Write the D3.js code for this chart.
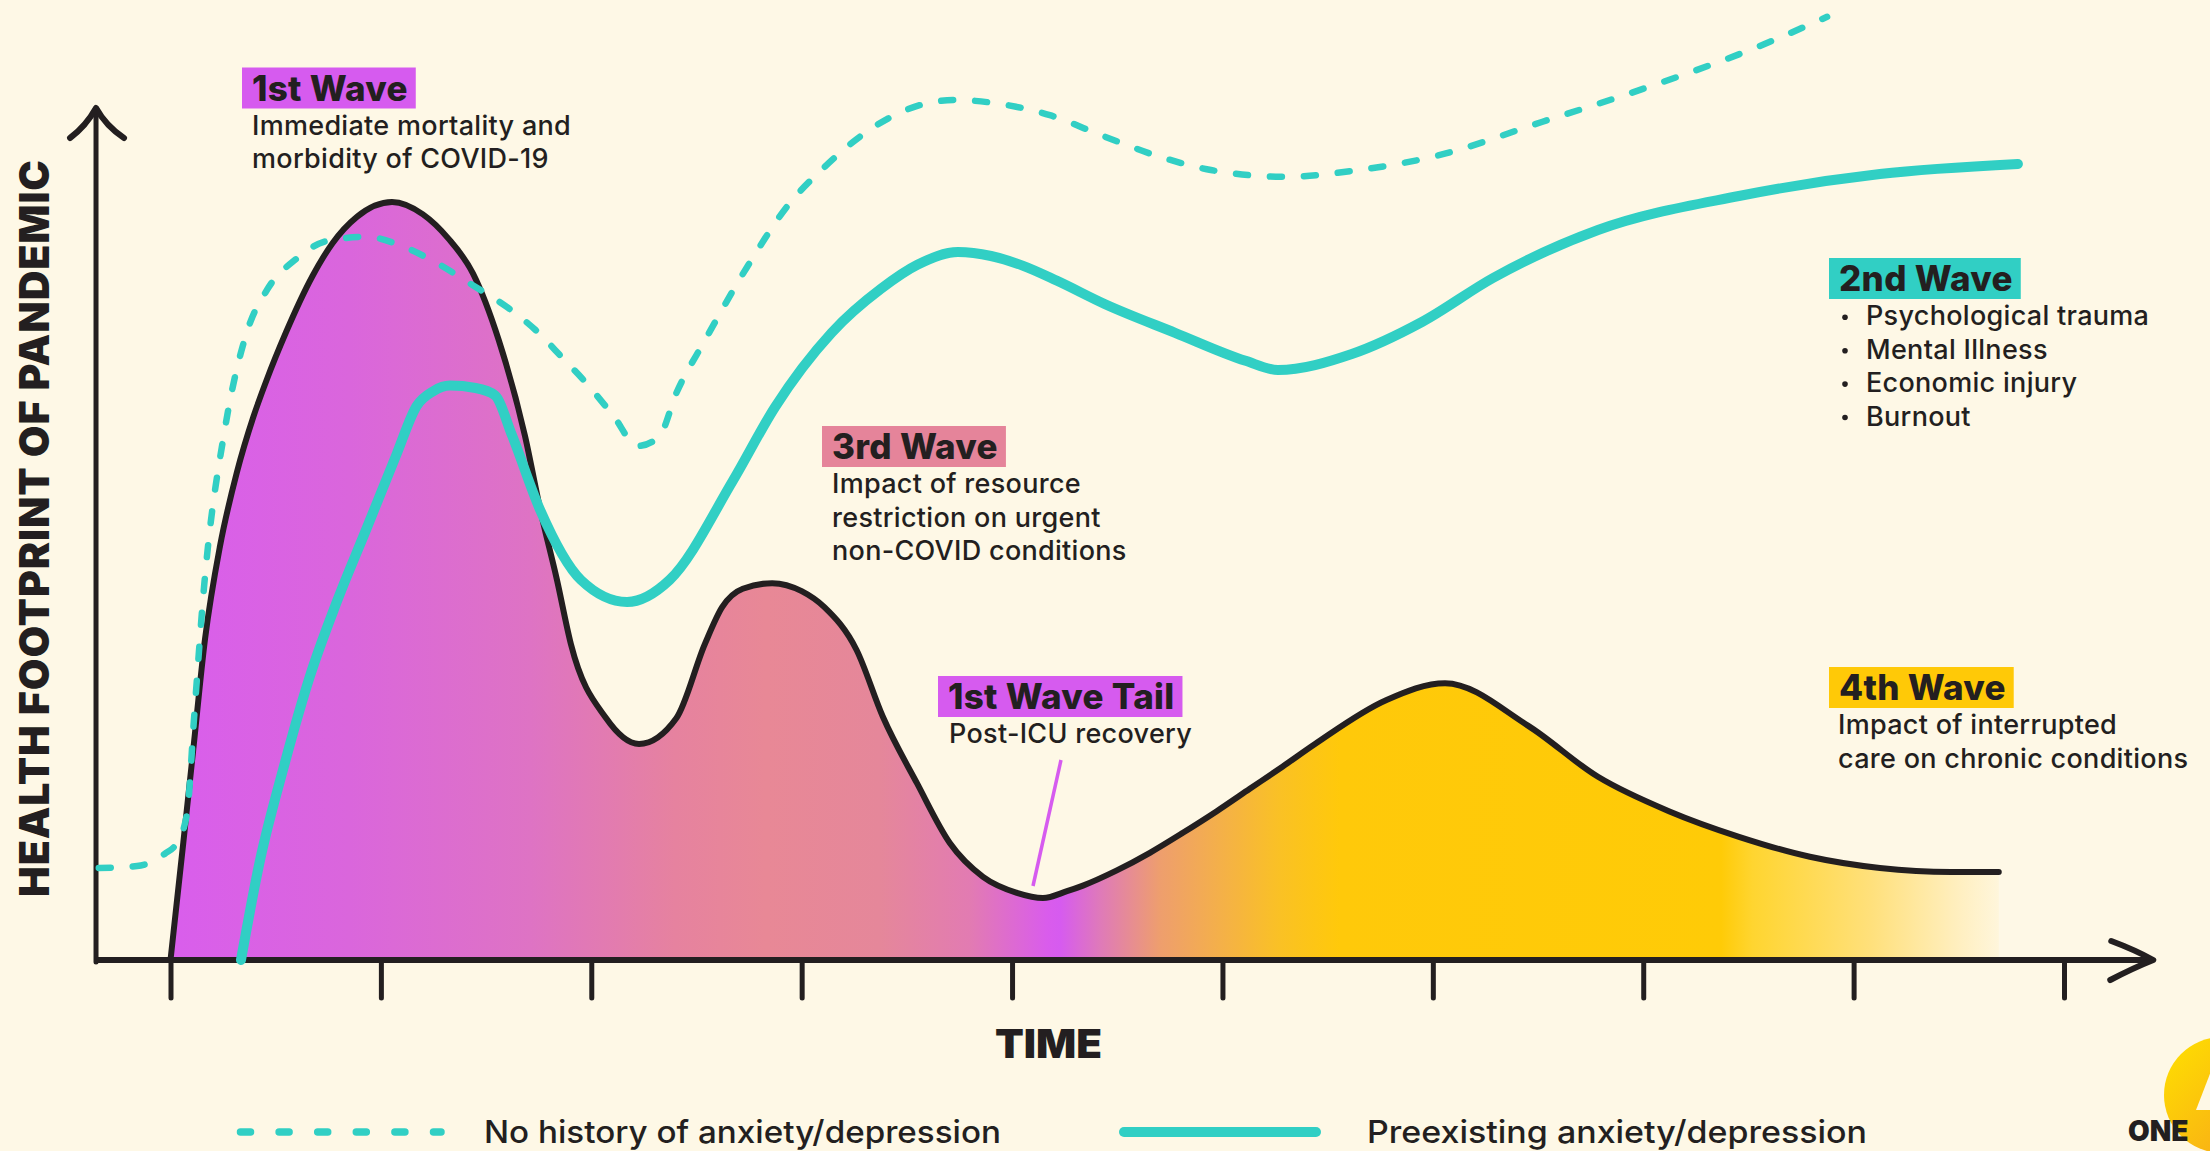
<!DOCTYPE html>
<html><head><meta charset="utf-8">
<script src="https://cdn.jsdelivr.net/npm/d3@7"></script>
<style>
html,body{margin:0;padding:0;background:#FEF8E6;overflow:hidden;}
svg{display:block;}
</style></head>
<body>
<svg id="chart" width="2210" height="1151"></svg>
<script>
// ---------------- DATA ----------------
// Total health footprint (black envelope), time in tick units, value in arbitrary units
const timeTotal = [0,0.061,0.108,0.164,0.235,0.315,0.394,0.457,0.548,0.675,0.77,0.886,1.053,1.2,1.32,1.438,1.56,1.685,1.76,1.837,1.903,2.07,2.227,2.405,2.54,2.622,2.72,2.86,3.0,3.108,3.261,3.386,3.548,3.705,3.862,4.023,4.147,4.261,4.337,4.498,4.655,4.812,4.973,5.13,5.287,5.44,5.78,6.058,6.452,6.785,7.122,7.455,7.792,8.125,8.463,8.69];
const totalFootprint = [0,14.7,26.25,40.1,51.7,60.9,67.9,72.5,78.4,85.5,89.6,92.9,94.75,93.2,90.2,85.8,77.5,65.5,56,47.5,39.5,30.25,27,30.25,39.5,44.1,46.4,47.1,46.1,44.1,38.75,30.4,22.1,14.6,10.4,8.4,7.75,8.6,9.3,11.2,13.4,15.9,18.6,21.4,24.2,27,32.5,34.6,29.3,22.9,18.6,15.4,12.9,11.5,11,11];

// Preexisting anxiety/depression (solid teal)
const timePre = [0.335,0.425,0.536,0.663,0.79,0.933,1.075,1.17,1.249,1.328,1.45,1.542,1.623,1.757,1.951,2.17,2.372,2.673,2.873,3.142,3.377,3.55,3.743,3.9,4.05,4.214,4.44,4.775,5.11,5.264,5.615,5.948,6.286,6.785,7.455,8.125,8.781];
const preexisting = [0,12.4,23.9,35.5,44.75,54,63.25,69.25,71.1,71.8,71.5,70.6,65.6,56.25,47.5,44.75,47.5,59.9,69.1,78.4,83.9,86.9,88.5,88,86.8,84.9,82,78.4,74.9,73.75,75.75,79.75,85.25,91.25,95.5,98.25,99.5];

// No history of anxiety/depression (dashed teal)
const timeNoHist = [-0.341,-0.159,-0.026,0.029,0.078,0.112,0.159,0.261,0.362,0.462,0.596,0.747,0.932,1.099,1.267,1.433,1.6,1.735,1.869,1.97,2.103,2.221,2.322,2.405,2.539,2.74,2.94,3.108,3.276,3.51,3.729,3.946,4.18,4.442,4.74,4.945,5.297,5.649,6.015,6.518,7.022,7.554,7.874];
const noHistory = [11.5,11.75,13.3,14.6,18.2,30.25,46.5,66.75,78.4,83.9,87.6,89.9,90.4,89.25,87.1,84.4,81.6,78.75,75.1,72.3,68.1,64.25,65.4,70.9,77.4,86.6,94.5,99.1,102.9,106.4,107.5,107,105.6,102.9,100.1,98.75,97.9,98.75,100.5,104.75,109.1,114.25,117.9];

const xTicks = [0,1,2,3,4,5,6,7,8,9];
const xTitle = "TIME";
const yTitle = "HEALTH FOOTPRINT OF PANDEMIC";
const seriesNames = ["No history of anxiety/depression","Preexisting anxiety/depression"];

const waveTitles = ["1st Wave","3rd Wave","1st Wave Tail","2nd Wave","4th Wave"];
const waveTexts = [
  ["Immediate mortality and","morbidity of COVID-19"],
  ["Impact of resource","restriction on urgent","non-COVID conditions"],
  ["Post-ICU recovery"],
  ["Psychological trauma","Mental Illness","Economic injury","Burnout"],
  ["Impact of interrupted","care on chronic conditions"]
];

// ---------------- STYLE ----------------
const BG = "#FEF8E6", INK = "#231F20", TEAL = "#31CFC4";
const MAGENTA = "#D65BEF", PINK = "#E5849A", YELLOW = "#FFC907";
const FONT = "Inter, 'Noto Sans', sans-serif";

const W = 2210, H = 1151;
const svg = d3.select("#chart");
svg.append("rect").attr("width", W).attr("height", H).attr("fill", BG);

const x = d3.scaleLinear().domain([0, 9]).range([170.5, 2064]);
const y = d3.scaleLinear().domain([0, 100]).range([960, 160]);
const axisT0 = -0.354, axisT1 = 9.41, axisVTop = 106.5;

// gradient (position in time units, colour)
const gradStops = [
  [0,"#D95EEC"],[0.85,"#DA66DC"],[1.71,"#DE73C4"],[2.4,"#E6829F"],[2.83,"#E88896"],
  [3.37,"#E5879A"],[3.8,"#E27BB2"],[4.17,"#D95CEC"],[4.23,"#D65BEF"],[4.42,"#DF7AB9"],
  [4.7,"#EE9E6E"],[4.99,"#F4B049"],[5.27,"#FAC125"],[5.56,"#FFC90A"],[7.37,"#FFCB07"],
  [7.52,"#FFD530"],[8.08,"#FFE07B"],[8.5,"#FFEFC0"],[8.76,"#FEF8E5"]
];
const defs = svg.append("defs");
const gx0 = x(gradStops[0][0]), gx1 = x(gradStops[gradStops.length-1][0]);
const grad = defs.append("linearGradient").attr("id","waveGrad")
  .attr("gradientUnits","userSpaceOnUse").attr("x1",gx0).attr("x2",gx1).attr("y1",0).attr("y2",0);
gradStops.forEach(s => grad.append("stop").attr("offset", (x(s[0])-gx0)/(gx1-gx0)).attr("stop-color", s[1]));

const totalData = timeTotal.map((t,i)=>({t, v: totalFootprint[i]}));
const preData = timePre.map((t,i)=>({t, v: preexisting[i]}));
const noHistData = timeNoHist.map((t,i)=>({t, v: noHistory[i]}));

const curve = d3.curveMonotoneX;

// area fill
svg.append("path").datum(totalData)
  .attr("d", d3.area().x(d=>x(d.t)).y0(y(0)).y1(d=>y(d.v)).curve(curve))
  .attr("fill","url(#waveGrad)");

// black envelope
svg.append("path").datum(totalData)
  .attr("d", d3.line().x(d=>x(d.t)).y(d=>y(d.v)).curve(curve))
  .attr("fill","none").attr("stroke",INK).attr("stroke-width",6).attr("stroke-linecap","round").attr("stroke-linejoin","round");

// axes
const gAxis = svg.append("g").attr("transform",`translate(0,${y(0)})`)
  .call(d3.axisBottom(x).tickValues(xTicks).tickSize(38).tickSizeOuter(0).tickFormat(""));
gAxis.select(".domain").remove();
gAxis.selectAll(".tick line").attr("stroke",INK).attr("stroke-width",5).attr("stroke-linecap","round");

const ax0 = x(axisT0), ax1 = x(axisT1), ay0 = y(0), ayTop = y(axisVTop);
svg.append("line").attr("x1",ax0-2).attr("x2",ax1).attr("y1",ay0).attr("y2",ay0)
  .attr("stroke",INK).attr("stroke-width",6);
svg.append("line").attr("x1",ax0).attr("x2",ax0).attr("y1",ay0+2).attr("y2",ayTop)
  .attr("stroke",INK).attr("stroke-width",5).attr("stroke-linecap","round");
// arrow heads
const tipX = ax1 + 3;
svg.append("path").attr("d",`M${tipX-42},${ay0-19} Q${tipX-18},${ay0-10} ${tipX},${ay0} Q${tipX-20},${ay0+8} ${tipX-43},${ay0+20}`)
  .attr("fill","none").attr("stroke",INK).attr("stroke-width",6).attr("stroke-linecap","round").attr("stroke-linejoin","round");
svg.append("path").attr("d",`M${ax0-26},${ayTop+30} Q${ax0-10},${ayTop+18} ${ax0},${ayTop} Q${ax0+10},${ayTop+18} ${ax0+28},${ayTop+30}`)
  .attr("fill","none").attr("stroke",INK).attr("stroke-width",6).attr("stroke-linecap","round").attr("stroke-linejoin","round");

// teal lines
svg.append("path").datum(noHistData)
  .attr("d", d3.line().x(d=>x(d.t)).y(d=>y(d.v)).curve(curve))
  .attr("fill","none").attr("stroke",TEAL).attr("stroke-width",6.5)
  .attr("stroke-dasharray","12,22").attr("stroke-linecap","round");
svg.append("path").datum(preData)
  .attr("d", d3.line().x(d=>x(d.t)).y(d=>y(d.v)).curve(curve))
  .attr("fill","none").attr("stroke",TEAL).attr("stroke-width",10).attr("stroke-linecap","round").attr("stroke-linejoin","round");

// axis titles
svg.append("text").attr("transform",`translate(49,528.5) rotate(-90)`)
  .attr("text-anchor","middle").attr("font-family",FONT).attr("font-weight",900)
  .attr("font-size",41).attr("fill",INK).attr("textLength",737).attr("lengthAdjust","spacing")
  .text(yTitle);
svg.append("text").attr("x",1048.5).attr("y",1058).attr("text-anchor","middle")
  .attr("font-family",FONT).attr("font-weight",900).attr("font-size",40).attr("fill",INK)
  .attr("textLength",107).attr("lengthAdjust","spacingAndGlyphs").text(xTitle);

// annotations
function waveLabel(i, tx, baseline, fill, bodyX, bullet) {
  const g = svg.append("g");
  const rect = g.append("rect").attr("fill", fill);
  const t = g.append("text").attr("x",tx).attr("y",baseline)
    .attr("font-family",FONT).attr("font-weight",800).attr("font-size",35).attr("letter-spacing",0.3).attr("fill",INK)
    .text(waveTitles[i]);
  const w = t.node().getComputedTextLength();
  rect.attr("x",tx-10).attr("y",baseline-33).attr("width",w+18).attr("height",41);
  waveTexts[i].forEach((ln,k)=>{
    const yy = baseline + 34.3 + k*33.4;
    if (bullet) {
      g.append("circle").attr("cx",tx+6).attr("cy",yy-8).attr("r",2.8).attr("fill",INK);
    }
    g.append("text").attr("x",bodyX).attr("y",yy)
      .attr("font-family",FONT).attr("font-weight",500).attr("font-size",27).attr("letter-spacing",0.3).attr("fill",INK)
      .text(ln);
  });
}
waveLabel(0, 252, 100.5, MAGENTA, 252, false);
waveLabel(1, 832, 459, PINK, 832, false);
waveLabel(2, 948, 709, MAGENTA, 949, false);
waveLabel(3, 1839, 291, TEAL, 1866, true);
waveLabel(4, 1839, 700, YELLOW, 1838, false);

// leader line for tail
svg.append("line").attr("x1",1061).attr("y1",760).attr("x2",1033).attr("y2",886)
  .attr("stroke",MAGENTA).attr("stroke-width",3.5);

// legend
const legY = 1132;
svg.append("line").attr("x1",240.5).attr("x2",441).attr("y1",legY).attr("y2",legY)
  .attr("stroke",TEAL).attr("stroke-width",7.5).attr("stroke-dasharray","10,28.6").attr("stroke-linecap","round");
svg.append("text").attr("x",484).attr("y",1143).attr("font-family",FONT).attr("font-weight",500)
  .attr("font-size",31).attr("fill",INK).attr("textLength",517).attr("lengthAdjust","spacingAndGlyphs").text(seriesNames[0]);
svg.append("line").attr("x1",1124).attr("x2",1316).attr("y1",legY).attr("y2",legY)
  .attr("stroke",TEAL).attr("stroke-width",10).attr("stroke-linecap","round");
svg.append("text").attr("x",1367).attr("y",1143).attr("font-family",FONT).attr("font-weight",500)
  .attr("font-size",31).attr("fill",INK).attr("textLength",500).attr("lengthAdjust","spacingAndGlyphs").text(seriesNames[1]);

// logo (partial, cut by edge)
const lg = defs.append("linearGradient").attr("id","logoGrad").attr("x1",0).attr("y1",0).attr("x2",1).attr("y2",1);
lg.append("stop").attr("offset",0).attr("stop-color","#FFE100");
lg.append("stop").attr("offset",1).attr("stop-color","#F7A21B");
svg.append("circle").attr("cx",2222).attr("cy",1095).attr("r",58).attr("fill","url(#logoGrad)");
svg.append("path").attr("d","M2196,1110 L2213,1066 L2232,1110 Z").attr("fill",BG);
svg.append("text").attr("x",2128).attr("y",1141).attr("font-family",FONT).attr("font-weight",900)
  .attr("font-size",28).attr("fill",INK).text("ONE");
</script>
</body></html>
